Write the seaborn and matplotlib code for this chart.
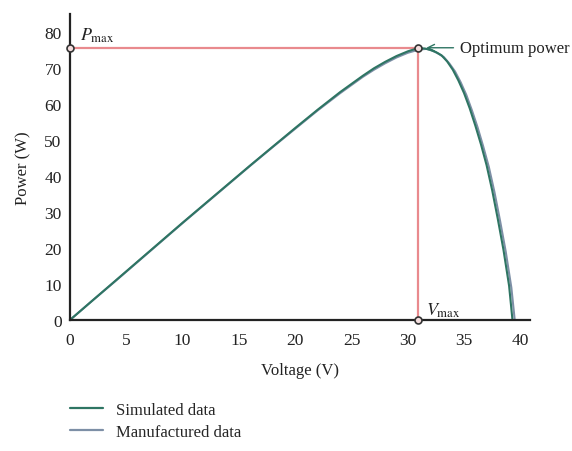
import numpy as np
import pandas as pd
import matplotlib
matplotlib.use("Agg")
import matplotlib.pyplot as plt
import seaborn as sns
from matplotlib.lines import Line2D

# ---- data ----
voltage_sim = [0, 2, 4, 6, 8, 10, 12, 14, 16, 18, 20, 22, 24, 26, 27, 28, 29, 30, 30.9,
               31.5, 32, 32.5, 33, 33.5, 34, 34.5, 35, 35.5, 36, 36.5, 37, 37.5, 38,
               38.5, 39, 39.3]
power_sim = [0, 5.4, 10.8, 16.2, 21.6, 27.0, 32.3, 37.6, 42.9, 48.1, 53.3, 58.4, 63.3,
             67.8, 69.9, 71.7, 73.3, 74.6, 75.5, 75.4, 75.0, 74.4, 73.5, 71.8, 69.5,
             66.5, 63.0, 58.8, 54.0, 48.8, 43.0, 36.0, 28.0, 19.5, 9.5, 0]
voltage_man = [0, 2, 4, 6, 8, 10, 12, 14, 16, 18, 20, 22, 24, 26, 27, 28, 29, 30, 31,
               31.7, 32.2, 32.7, 33.2, 33.7, 34.2, 34.7, 35.2, 35.7, 36.2, 36.7, 37.2,
               37.7, 38.2, 38.7, 39.2, 39.5]
power_man = [0, 5.4, 10.7, 16.1, 21.5, 26.9, 32.2, 37.5, 42.8, 48.0, 53.1, 58.2, 63.0,
             67.5, 69.5, 71.3, 72.9, 74.2, 75.1, 75.3, 74.8, 74.0, 73.0, 71.2, 69.0,
             66.0, 62.5, 58.2, 53.5, 48.2, 42.5, 35.5, 27.5, 19.0, 9.0, 0]
series_names = ["Simulated data", "Manufactured data"]
v_max = 30.9
p_max = 75.5
x_ticks = [0, 5, 10, 15, 20, 25, 30, 35, 40]
y_ticks = [0, 10, 20, 30, 40, 50, 60, 70, 80]

df = pd.concat([
    pd.DataFrame({"Voltage": voltage_man, "Power": power_man, "Series": series_names[1]}),
    pd.DataFrame({"Voltage": voltage_sim, "Power": power_sim, "Series": series_names[0]}),
])

sns.set_style("white")
plt.rcParams["font.family"] = ["Liberation Serif", "DejaVu Serif"]
plt.rcParams["mathtext.fontset"] = "stix"

fig = plt.figure(figsize=(5.72, 4.52), dpi=100)
ax = fig.add_axes([0.1224, 0.290, 0.805, 0.677])

palette = {series_names[0]: "#2e7563", series_names[1]: "#7d8fa6"}
sns.lineplot(data=df, x="Voltage", y="Power", hue="Series", palette=palette,
             hue_order=[series_names[1], series_names[0]],
             sort=False, linewidth=1.5, ax=ax, legend=False)

red = "#e98a8e"
ax.plot([0, v_max], [p_max, p_max], color=red, lw=1.6, zorder=1)
ax.plot([v_max, v_max], [0, p_max], color=red, lw=1.6, zorder=1)
for (xx, yy) in [(0, p_max), (v_max, p_max), (v_max, 0)]:
    ax.plot(xx, yy, marker="o", ms=5, mfc="#f4dede", mec="#333333", mew=1.2,
            clip_on=False, zorder=5)

ax.text(0.9, 78.0, r"$P_{\mathrm{max}}$", fontsize=13, color="#222222")
ax.text(31.6, 1.5, r"$V_{\mathrm{max}}$", fontsize=13, color="#222222")
ax.annotate("Optimum power", xy=(31.4, 75.6), xytext=(34.6, 75.6),
            fontsize=12, color="#222222", va="center",
            arrowprops=dict(arrowstyle="->", color="#2e7563", lw=1.0))

ax.set_xlim(0, 40.9)
ax.set_ylim(0, 85)
ax.set_xticks(x_ticks)
ax.set_yticks(y_ticks)
ax.set_xlabel("Voltage (V)", fontsize=12, color="#222222", labelpad=10)
ax.set_ylabel("Power (W)", fontsize=12, color="#222222", labelpad=9)
ax.tick_params(direction="in", length=3, width=1.2, labelsize=12.5,
               colors="#222222")
ax.tick_params(axis="x", pad=9)
ax.tick_params(axis="y", pad=6)
for s in ["top", "right"]:
    ax.spines[s].set_visible(False)
for s in ["left", "bottom"]:
    ax.spines[s].set_linewidth(1.6)
    ax.spines[s].set_color("#222222")

handles = [Line2D([], [], color=c, lw=1.6) for c in ["#2e7563", "#7d8fa6"]]
fig.legend(handles, series_names, loc="upper left", bbox_to_anchor=(0.11, 0.124),
           frameon=False, fontsize=12, handlelength=2.0, labelspacing=0.4,
           borderaxespad=0)

fig.savefig("out.png", dpi=100, facecolor="white")
